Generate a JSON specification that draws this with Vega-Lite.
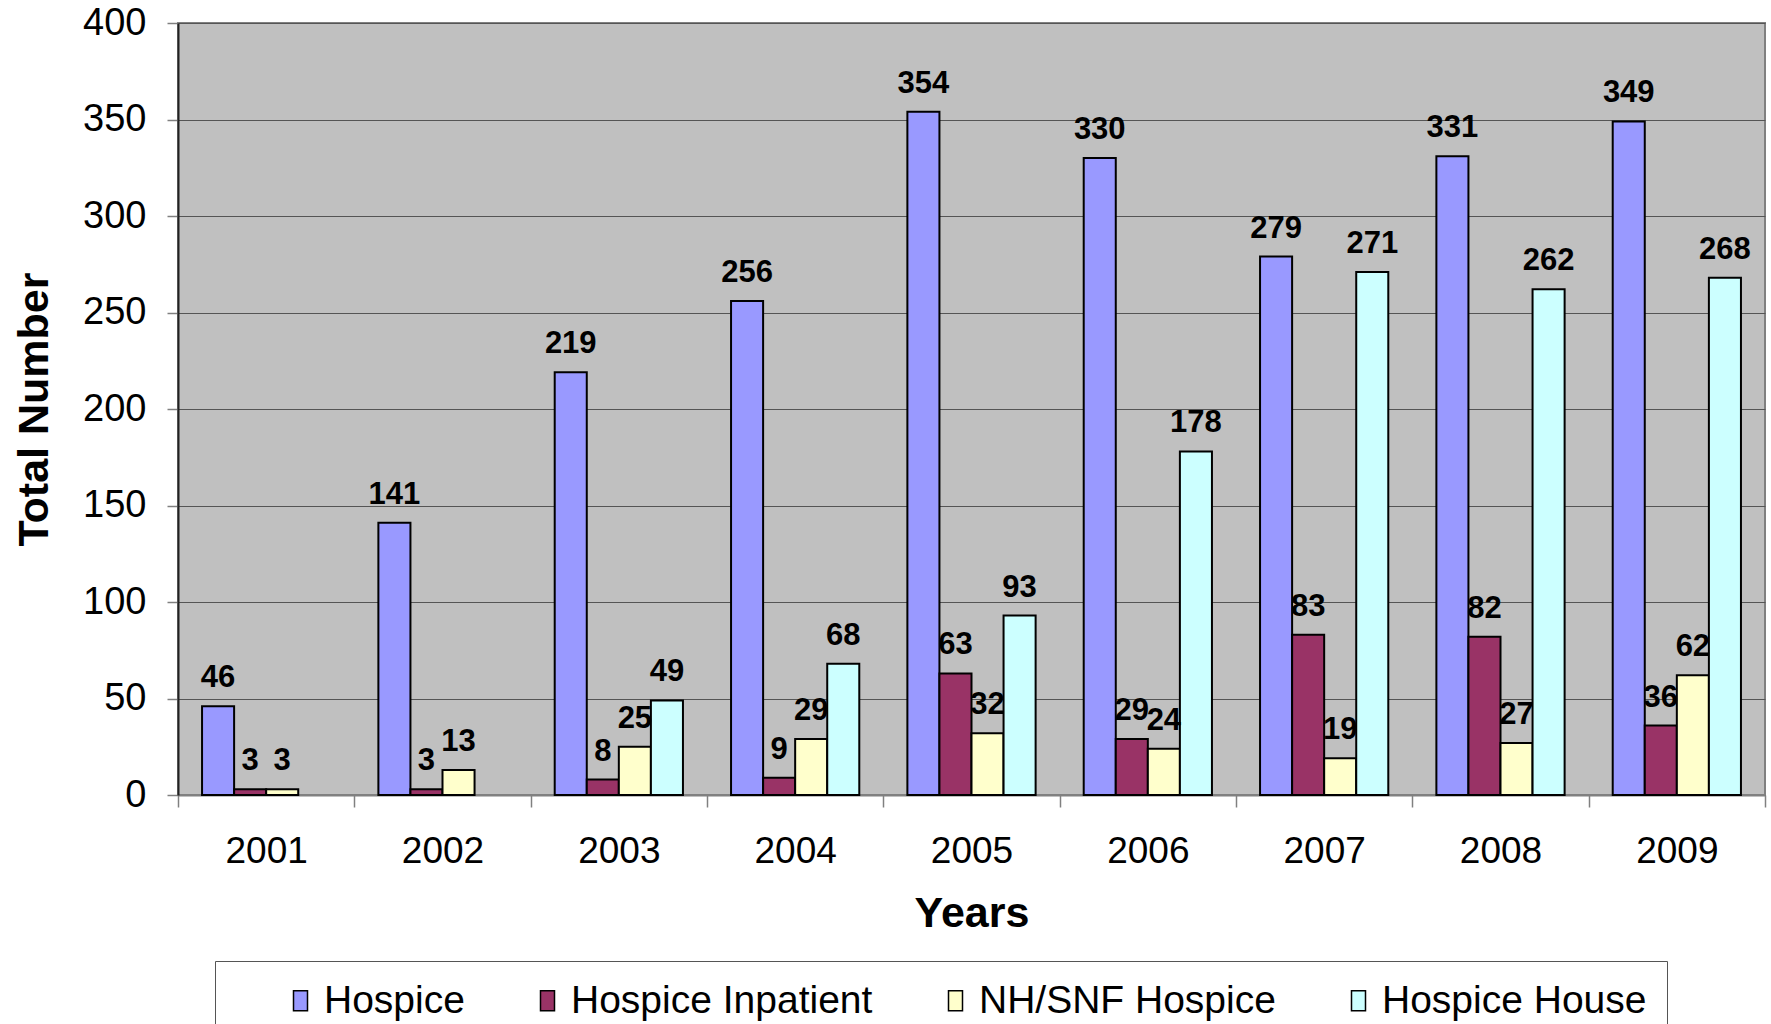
{
  "$schema": "https://vega.github.io/schema/vega-lite/v6.json",
  "width": 1587,
  "height": 772,
  "autosize": {"type": "none"},
  "padding": {"left": 178, "top": 23, "right": 6, "bottom": 229},
  "background": "white",
  "config": {
    "font": "Liberation Sans",
    "view": {"fill": "#C0C0C0", "stroke": "#808080", "strokeWidth": 2}
  },
  "data": {
    "values": [
      {"year": "2001", "series": "Hospice", "value": 46},
      {"year": "2001", "series": "Hospice Inpatient", "value": 3},
      {"year": "2001", "series": "NH/SNF Hospice", "value": 3},
      {"year": "2002", "series": "Hospice", "value": 141},
      {"year": "2002", "series": "Hospice Inpatient", "value": 3},
      {"year": "2002", "series": "NH/SNF Hospice", "value": 13},
      {"year": "2003", "series": "Hospice", "value": 219},
      {"year": "2003", "series": "Hospice Inpatient", "value": 8},
      {"year": "2003", "series": "NH/SNF Hospice", "value": 25},
      {"year": "2003", "series": "Hospice House", "value": 49},
      {"year": "2004", "series": "Hospice", "value": 256},
      {"year": "2004", "series": "Hospice Inpatient", "value": 9},
      {"year": "2004", "series": "NH/SNF Hospice", "value": 29},
      {"year": "2004", "series": "Hospice House", "value": 68},
      {"year": "2005", "series": "Hospice", "value": 354},
      {"year": "2005", "series": "Hospice Inpatient", "value": 63},
      {"year": "2005", "series": "NH/SNF Hospice", "value": 32},
      {"year": "2005", "series": "Hospice House", "value": 93},
      {"year": "2006", "series": "Hospice", "value": 330},
      {"year": "2006", "series": "Hospice Inpatient", "value": 29},
      {"year": "2006", "series": "NH/SNF Hospice", "value": 24},
      {"year": "2006", "series": "Hospice House", "value": 178},
      {"year": "2007", "series": "Hospice", "value": 279},
      {"year": "2007", "series": "Hospice Inpatient", "value": 83},
      {"year": "2007", "series": "NH/SNF Hospice", "value": 19},
      {"year": "2007", "series": "Hospice House", "value": 271},
      {"year": "2008", "series": "Hospice", "value": 331},
      {"year": "2008", "series": "Hospice Inpatient", "value": 82},
      {"year": "2008", "series": "NH/SNF Hospice", "value": 27},
      {"year": "2008", "series": "Hospice House", "value": 262},
      {"year": "2009", "series": "Hospice", "value": 349},
      {"year": "2009", "series": "Hospice Inpatient", "value": 36},
      {"year": "2009", "series": "NH/SNF Hospice", "value": 62},
      {"year": "2009", "series": "Hospice House", "value": 268}
    ]
  },
  "encoding": {
    "x": {
      "field": "year",
      "type": "nominal",
      "scale": {"paddingInner": 0, "paddingOuter": 0},
      "axis": {
        "title": "Years",
        "titleFontSize": 43,
        "titleFontWeight": "bold",
        "titleColor": "black",
        "titleY": 118,
        "titleBaseline": "middle",
        "labelAngle": 0,
        "labelFontSize": 37,
        "labelColor": "black",
        "labelPadding": 26,
        "tickBand": "extent",
        "tickSize": 12,
        "tickColor": "#808080",
        "tickWidth": 1.5,
        "domainColor": "#808080",
        "domainWidth": 2,
        "grid": false
      }
    },
    "xOffset": {
      "field": "series",
      "type": "nominal",
      "scale": {
        "domain": ["Hospice", "Hospice Inpatient", "NH/SNF Hospice", "Hospice House"],
        "paddingInner": 0,
        "paddingOuter": 0.75
      }
    },
    "y": {
      "field": "value",
      "type": "quantitative",
      "scale": {"domain": [0, 400], "nice": false},
      "axis": {
        "title": "Total Number",
        "titleFontSize": 43,
        "titleFontWeight": "bold",
        "titleColor": "black",
        "titleAngle": -90,
        "titleX": -144,
        "titleY": 386,
        "titleAlign": "center",
        "titleBaseline": "middle",
        "values": [0, 50, 100, 150, 200, 250, 300, 350, 400],
        "labelFontSize": 38,
        "labelColor": "black",
        "labelPadding": 21,
        "tickSize": 11,
        "tickColor": "#808080",
        "tickWidth": 1.5,
        "domainColor": "#222222",
        "domainWidth": 2,
        "grid": true,
        "gridColor": "#555555",
        "gridWidth": 1.2
      }
    }
  },
  "layer": [
    {
      "mark": {"type": "bar", "stroke": "black", "strokeWidth": 2},
      "encoding": {
        "color": {
          "field": "series",
          "type": "nominal",
          "scale": {
            "domain": ["Hospice", "Hospice Inpatient", "NH/SNF Hospice", "Hospice House"],
            "range": ["#9999FF", "#993366", "#FFFFCC", "#CCFFFF"]
          },
          "legend": {
            "orient": "none",
            "legendX": 37,
            "legendY": 938,
            "direction": "horizontal",
            "columns": 4,
            "title": " ",
            "titleOrient": "left",
            "titleFontSize": 1,
            "titlePadding": 46,
            "labelFontSize": 39,
            "labelColor": "black",
            "labelLimit": 0,
            "symbolType": "M-0.7,-1H0.7V1H-0.7Z",
            "symbolSize": 400,
            "symbolStrokeColor": "black",
            "symbolStrokeWidth": 1.5,
            "symbolOpacity": 1,
            "columnPadding": 63,
            "labelOffset": 4,
            "strokeColor": "#555555",
            "fillColor": "white",
            "padding": 20
          }
        }
      }
    },
    {
      "mark": {"type": "text", "fontSize": 31, "fontWeight": "bold", "baseline": "alphabetic", "dy": -19, "color": "black"},
      "encoding": {"text": {"field": "value", "type": "quantitative"}}
    }
  ]
}
